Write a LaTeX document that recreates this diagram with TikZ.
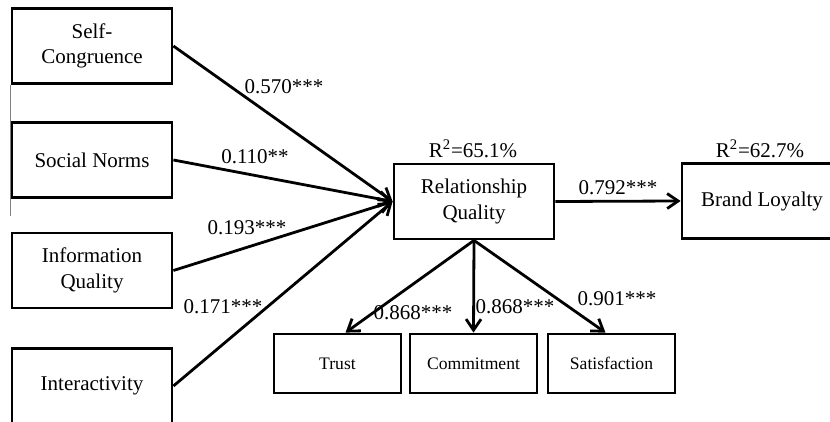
\documentclass[tikz,border=0pt]{standalone}
\usepackage{fontspec}
\setmainfont{Liberation Serif}
\usetikzlibrary{arrows.meta}
\begin{document}
\begin{tikzpicture}[x=0.5pt,y=-0.5pt,
  box/.style={draw, line width=1.4pt, minimum width=80pt, minimum height=37.5pt, inner sep=0pt, align=center, font=\fontsize{10.5}{12.75}\selectfont},
  sbox/.style={draw, line width=1.4pt, minimum width=63.5pt, minimum height=29.5pt, inner sep=0pt, font=\fontsize{8.8}{10}\selectfont},
  lab/.style={font=\fontsize{10.5}{12}\selectfont, inner sep=0pt},
  arr/.style={line width=1.4pt, -{Straight Barb[length=5.5pt,width=7.5pt]}}]
\useasboundingbox (0,0) rectangle (830,422);
\clip (0,0) rectangle (830,422);

\node[box] (sc) at (92,46) {Self-\\Congruence};
\node[box] (sn) at (92,160) {Social Norms};
\node[box] (iq) at (92,270.5) {Information\\Quality};
\node[box] (ia) at (92,386) {Interactivity};
\node[box] (rq) at (474,201.5) {Relationship\\Quality};
\node[box] (bl) at (762,201) {Brand Loyalty};
\node[sbox] (tr) at (337.5,363.5) {Trust};
\node[sbox] (cm) at (473.5,363.5) {Commitment};
\node[sbox] (sa) at (611.5,363.5) {Satisfaction};

\draw[gray, line width=0.6pt] (sc.south west) -- ++(0,131);

\draw[arr] (sc.east) -- (rq.west);
\draw[arr] (sn.east) -- (rq.west);
\draw[arr] (iq.east) -- (rq.west);
\draw[arr] (ia.east) -- (rq.west);
\draw[arr] (rq.east) -- (bl.west);
\draw[arr] (rq.south) -- ([xshift=4pt]tr.north);
\draw[arr] (rq.south) -- (cm.north);
\draw[arr] (rq.south) -- ([xshift=-3pt]sa.north);

\node[lab] (l1) at (284,87) {0.570***};
\node[lab] (l2) at (255,157) {0.110**};
\node[lab] (l3) at (247,228) {0.193***};
\node[lab] (l4) at (223,307) {0.171***};
\node[lab] (l5) at (618,188) {0.792***};
\node[lab] (l6) at (413,313) {0.868***};
\node[lab] (l7) at (515,307) {0.868***};
\node[lab] (l8) at (617,299) {0.901***};
\node[lab] (r1) at (473,149) {R\textsuperscript{2}=65.1\%};
\node[lab] (r2) at (760,149) {R\textsuperscript{2}=62.7\%};
\end{tikzpicture}
\end{document}
